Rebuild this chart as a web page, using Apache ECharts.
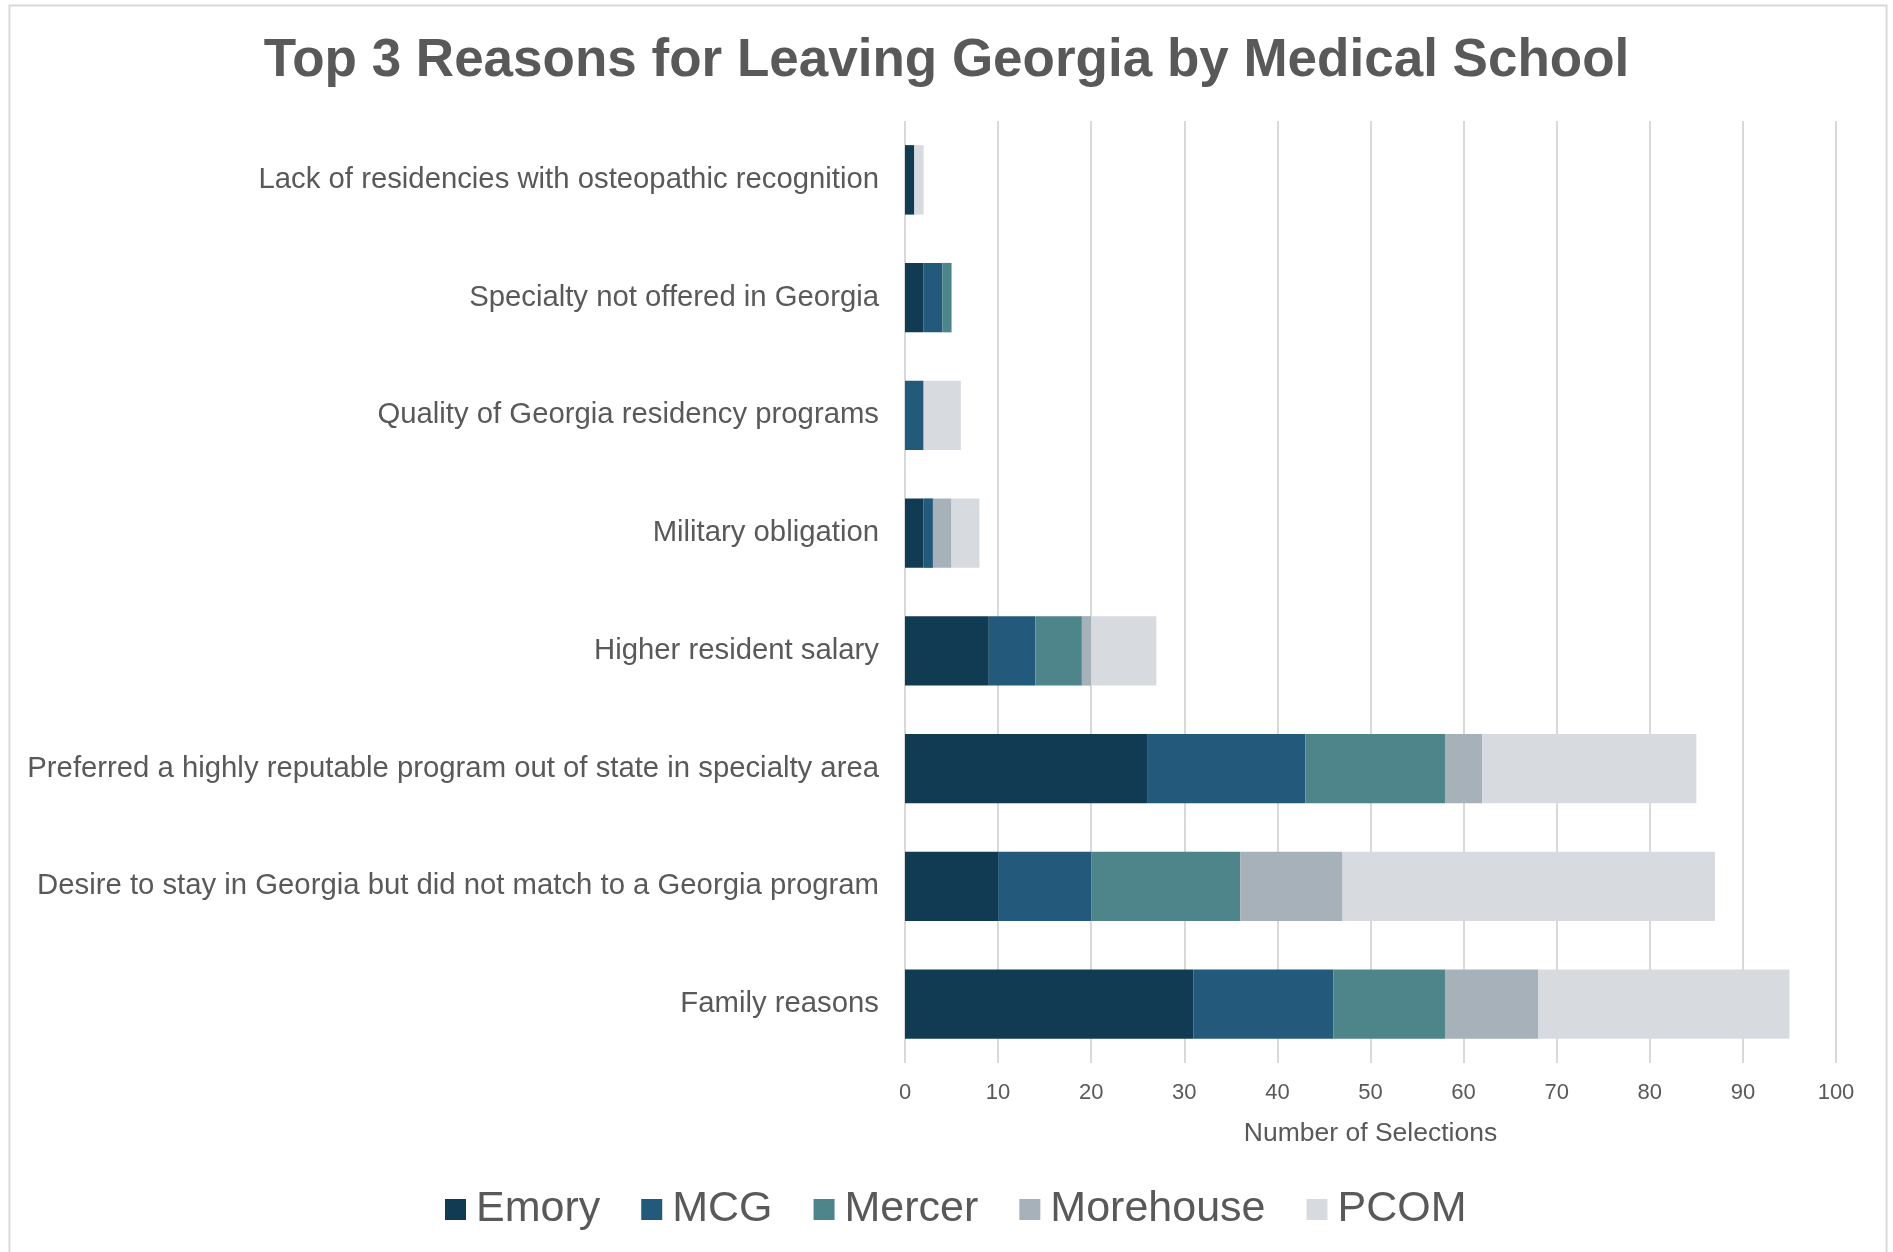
<!DOCTYPE html>
<html>
<head>
<meta charset="utf-8">
<script src="https://cdn.jsdelivr.net/npm/echarts@6/dist/echarts.min.js"></script>
<style>
html,body{margin:0;padding:0;background:#fff;}
#chart{width:1893px;height:1252px;}
</style>
</head>
<body>
<div id="chart"></div>
<script>
// Categories, top to bottom as shown
const categories = [
  "Lack of residencies with osteopathic recognition",
  "Specialty not offered in Georgia",
  "Quality of Georgia residency programs",
  "Military obligation",
  "Higher resident salary",
  "Preferred a highly reputable program out of state in specialty area",
  "Desire to stay in Georgia but did not match to a Georgia program",
  "Family reasons"
];
const seriesNames = ["Emory", "MCG", "Mercer", "Morehouse", "PCOM"];
const emory     = [1, 2, 0, 2, 9, 26, 10, 31];
const mcg       = [0, 2, 2, 1, 5, 17, 10, 15];
const mercer    = [0, 1, 0, 0, 5, 15, 16, 12];
const morehouse = [0, 0, 0, 2, 1, 4, 11, 10];
const pcom      = [1, 0, 4, 3, 7, 23, 40, 27];
const xTicks = [0, 10, 20, 30, 40, 50, 60, 70, 80, 90, 100];
const colors = ["#113a53", "#235a7b", "#4d858b", "#a7b1b9", "#d7dbe0"];
const values = [emory, mcg, mercer, morehouse, pcom];

const chart = echarts.init(document.getElementById('chart'));
const textColor = '#595959';
const font = 'Liberation Sans, Arial, sans-serif';

chart.setOption({
  backgroundColor: '#ffffff',
  animation: false,
  title: {
    text: 'Top 3 Reasons for Leaving Georgia by Medical School',
    left: 'center',
    top: 30,
    textStyle: { fontFamily: font, fontSize: 53, fontWeight: 'bold', color: textColor }
  },
  graphic: [{
    type: 'rect',
    shape: { x: 9.5, y: 5.5, width: 1877, height: 1300 },
    style: { fill: 'none', stroke: '#d9d9d9', lineWidth: 2 },
    silent: true
  }],
  legend: {
    data: seriesNames,
    bottom: 16,
    left: 440,
    itemWidth: 21,
    itemHeight: 21,
    itemGap: 41,
    icon: 'rect',
    textStyle: { fontFamily: font, fontSize: 43, color: textColor, padding: [0, 0, 0, 5] }
  },
  grid: { left: 905, right: 57, top: 121, bottom: 189, containLabel: false },
  xAxis: {
    type: 'value',
    min: xTicks[0],
    max: xTicks[xTicks.length - 1],
    interval: 10,
    name: 'Number of Selections',
    nameLocation: 'middle',
    nameGap: 57,
    nameTextStyle: { fontFamily: font, fontSize: 26.5, color: textColor },
    axisLine: { show: false },
    axisTick: { show: false },
    axisLabel: { fontFamily: font, fontSize: 22, color: textColor, margin: 19 },
    splitLine: { show: true, lineStyle: { color: '#d9d9d9', width: 2 } }
  },
  yAxis: {
    type: 'category',
    data: categories,
    inverse: true,
    axisLine: { show: false },
    axisTick: { show: false },
    axisLabel: { fontFamily: font, fontSize: 29.3, color: textColor, margin: 26 }
  },
  series: seriesNames.map((name, i) => ({
    name: name,
    type: 'bar',
    stack: 'total',
    barCategoryGap: '41%',
    itemStyle: { color: colors[i] },
    data: values[i]
  }))
});
</script>
</body>
</html>
